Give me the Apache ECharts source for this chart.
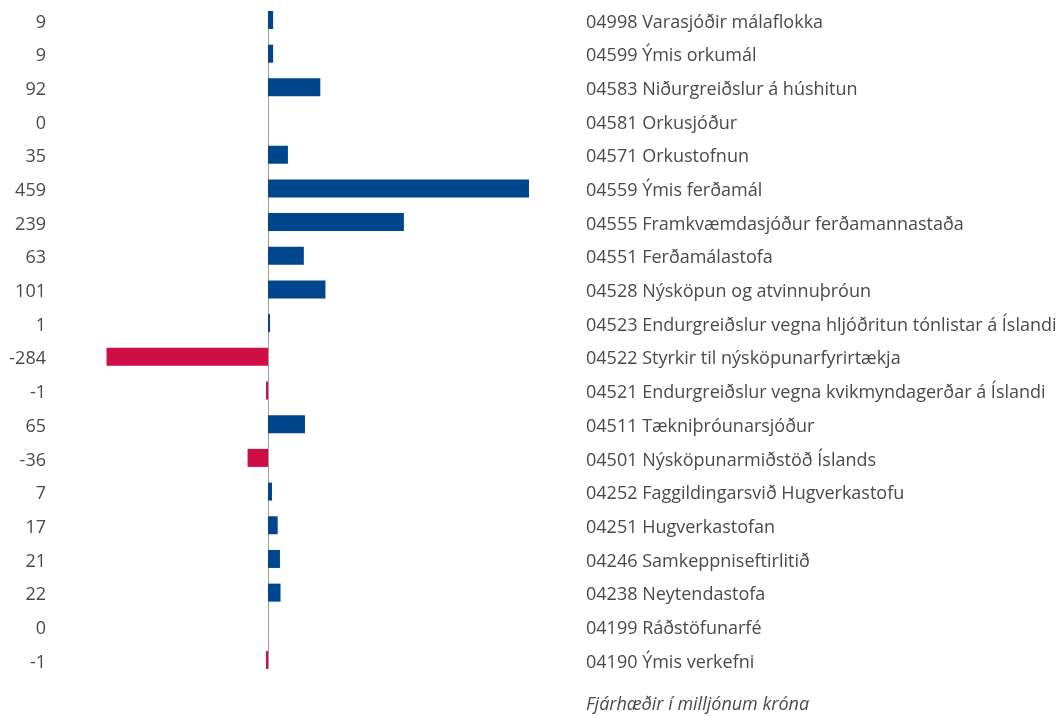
<!DOCTYPE html>
<html><head><meta charset="utf-8">
<script src="https://cdn.jsdelivr.net/npm/echarts@6/dist/echarts.min.js"></script>
<style>html,body{margin:0;padding:0;background:#fff}#c{width:1062px;height:716px}</style>
</head><body><div id="c"></div>
<script>
const categories = [
  "04998 Varasjóðir málaflokka",
  "04599 Ýmis orkumál",
  "04583 Niðurgreiðslur á húshitun",
  "04581 Orkusjóður",
  "04571 Orkustofnun",
  "04559 Ýmis ferðamál",
  "04555 Framkvæmdasjóður ferðamannastaða",
  "04551 Ferðamálastofa",
  "04528 Nýsköpun og atvinnuþróun",
  "04523 Endurgreiðslur vegna hljóðritun tónlistar á Íslandi",
  "04522 Styrkir til nýsköpunarfyrirtækja",
  "04521 Endurgreiðslur vegna kvikmyndagerðar á Íslandi",
  "04511 Tækniþróunarsjóður",
  "04501 Nýsköpunarmiðstöð Íslands",
  "04252 Faggildingarsvið Hugverkastofu",
  "04251 Hugverkastofan",
  "04246 Samkeppniseftirlitið",
  "04238 Neytendastofa",
  "04199 Ráðstöfunarfé",
  "04190 Ýmis verkefni"
];
const values = [9, 9, 92, 0, 35, 459, 239, 63, 101, 1, -284, -1, 65, -36, 7, 17, 21, 22, 0, -1];
const footnote = "Fjárhæðir í milljónum króna";

const BLUE = "#00468C", RED = "#CE0E45", TEXT = "#4a4a4a";
const FONT = "'Open Sans', 'Noto Sans', sans-serif";
const labelRich = {t: {fontFamily: FONT, fontSize: 18, color: TEXT, padding: [5, 0, 0, 0]}};

const chart = echarts.init(document.getElementById('c'), null, {renderer: 'canvas'});
chart.setOption({
  animation: false,
  backgroundColor: '#fff',
  title: {
    text: footnote, left: 586, top: 696, padding: 0,
    textStyle: {fontFamily: FONT, fontStyle: 'italic', fontWeight: 'normal', fontSize: 18, color: TEXT}
  },
  grid: {left: 40.6, right: 1062 - 552.3, top: 3.16, bottom: 39.16, containLabel: false},
  xAxis: {
    type: 'value', min: -400, max: 500, show: false
  },
  yAxis: [
    {
      type: 'category', data: categories, inverse: true, position: 'left',
      axisLine: {show: false}, axisTick: {show: false}, splitLine: {show: false},
      axisLabel: {
        margin: -5.4, fontFamily: FONT, fontSize: 18, color: TEXT, rich: labelRich,
        formatter: (v, i) => '{t|' + String(values[i]) + '}'
      }
    },
    {
      type: 'category', data: categories, inverse: true, position: 'right',
      axisLine: {show: false}, axisTick: {show: false}, splitLine: {show: false},
      axisLabel: {margin: 33.7, fontFamily: FONT, fontSize: 18, color: TEXT, rich: labelRich,
        formatter: v => '{t|' + v + '}'}
    }
  ],
  series: [
    {
      type: 'custom', yAxisIndex: 0, z: 1, data: [[0, 0]], silent: true,
      renderItem: (params, api) => {
        const a = api.coord([0, 0]);
        const b = api.coord([0, categories.length - 1]);
        const x = Math.round(a[0]) + 0.5;
        return {type: 'line', shape: {x1: x, y1: a[1] - 9, x2: x, y2: b[1] + 9},
                style: {stroke: '#a0a0a0', lineWidth: 1}};
      }
    },
    {
      type: 'bar', z: 2, data: values.map(v => v === 0 ? null : v), yAxisIndex: 0, barWidth: 18,
      barMinHeight: 2,
      itemStyle: {color: p => p.value < 0 ? RED : BLUE}
    }
  ]
});
</script></body></html>
